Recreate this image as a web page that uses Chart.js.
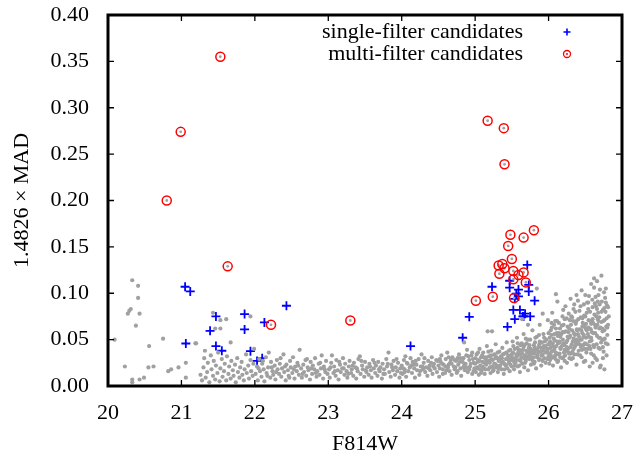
<!DOCTYPE html>
<html lang="en">
<head>
    <meta charset="UTF-8">
    <title>1.4826 × MAD vs F814W</title>
    <style>
        body { margin: 0; background: #fff; }
        canvas { display: block; }
    </style>
</head>
<body>
    <canvas id="madChart" width="634" height="457"></canvas>

    <script src="https://cdn.jsdelivr.net/npm/chart.js"></script>
    <script>
        // axis limits
        const xMin = 20, xMax = 27;
        const yMin = 0, yMax = 0.40;

        // single-filter candidates (blue +)
        const singleX = [21.05, 21.12, 21.47, 21.39, 21.86, 21.86, 22.13, 22.43, 21.06, 21.47, 21.55, 21.94, 22.03, 22.10,
                         24.12, 25.71, 25.47, 25.23, 25.47, 25.59, 25.73, 25.73, 25.56, 25.59, 25.54, 25.81, 25.52, 25.61,
                         24.92, 25.54, 25.65, 25.68, 25.75, 25.66, 25.44, 24.83];
        const singleY = [0.107, 0.102, 0.075, 0.0595, 0.0775, 0.061, 0.0685, 0.0865, 0.0458, 0.043, 0.038, 0.0375, 0.027, 0.030,
                         0.043, 0.1305, 0.1135, 0.107, 0.106, 0.104, 0.109, 0.102, 0.0995, 0.0966, 0.094, 0.092, 0.082, 0.082,
                         0.0746, 0.072, 0.075, 0.078, 0.075, 0.075, 0.0638, 0.052];

        // multi-filter candidates (red circles)
        const multiX = [21.53, 20.99, 20.80, 21.63, 22.22, 23.30, 25.17, 25.39, 25.40, 25.80, 25.48, 25.66, 25.45,
                        25.50, 25.32, 25.37, 25.40, 25.52, 25.33, 25.66, 25.59, 25.52, 25.69, 25.53, 25.24, 25.01];
        const multiY = [0.355, 0.274, 0.200, 0.129, 0.066, 0.0706, 0.286, 0.278, 0.239, 0.168, 0.163, 0.160, 0.151,
                        0.137, 0.130, 0.1315, 0.127, 0.124, 0.121, 0.1225, 0.1197, 0.115, 0.1117, 0.0948, 0.0962, 0.092];

        // full sample (grey dots), split by magnitude range
        const bgBright = [[20.33,0.114],[20.41,0.108],[20.41,0.095],[20.31,0.083],[20.29,0.081],[20.27,0.078],[20.43,0.078],
            [20.38,0.065],[20.09,0.050],[20.75,0.051],[20.56,0.043],[20.23,0.021],[20.55,0.020],[20.62,0.021],[20.33,0.007],
            [20.33,0.004],[20.43,0.007],[20.49,0.009],[20.82,0.016],[20.86,0.018],[20.96,0.020],[21.06,0.025],[21.06,0.009],
            [21.20,0.046],[21.43,0.079],[21.53,0.071],[21.53,0.062],[21.61,0.072],[21.32,0.038],[21.46,0.062],[21.94,0.075],
            [21.67,0.047],[21.19,0.046],[22.19,0.036]];
        const bg21 = [[21.26,0.012],[21.28,0.006],[21.30,0.020],[21.31,0.030],[21.33,0.009],[21.35,0.015],[21.36,0.025],
            [21.38,0.004],[21.40,0.033],[21.41,0.018],[21.43,0.011],[21.44,0.027],[21.46,0.007],[21.47,0.022],[21.49,0.014],
            [21.50,0.036],[21.52,0.005],[21.53,0.019],[21.55,0.029],[21.56,0.010],[21.58,0.016],[21.59,0.024],[21.61,0.006],
            [21.62,0.032],[21.64,0.013],[21.65,0.021],[21.67,0.008],[21.68,0.027],[21.70,0.017],[21.71,0.011],[21.73,0.023],
            [21.74,0.004],[21.76,0.030],[21.77,0.015],[21.79,0.009],[21.80,0.020],[21.82,0.026],[21.83,0.012],[21.85,0.006],
            [21.86,0.018],[21.88,0.034],[21.89,0.014],[21.91,0.022],[21.92,0.008],[21.94,0.028],[21.95,0.016],[21.97,0.011],
            [21.98,0.024],[21.99,0.040]];
        const bg22 = [[22.01,0.013],[22.03,0.021],[22.04,0.006],[22.06,0.029],[22.07,0.016],[22.09,0.010],[22.10,0.024],
            [22.12,0.018],[22.13,0.005],[22.15,0.031],[22.16,0.014],[22.18,0.020],[22.21,0.009],[22.22,0.026],[22.24,0.016],
            [22.25,0.012],[22.27,0.022],[22.28,0.007],[22.30,0.028],[22.31,0.018],[22.33,0.013],[22.34,0.024],[22.36,0.010],
            [22.37,0.019],[22.39,0.034],[22.40,0.015],[22.42,0.006],[22.43,0.023],[22.45,0.017],[22.46,0.011],[22.48,0.027],
            [22.49,0.020],[22.51,0.014],[22.52,0.031],[22.54,0.008],[22.55,0.021],[22.57,0.016],[22.58,0.025],[22.60,0.012],
            [22.61,0.039],[22.63,0.019],[22.64,0.009],[22.66,0.023],[22.67,0.015],[22.69,0.028],[22.70,0.011],[22.72,0.020],
            [22.73,0.017],[22.75,0.007],[22.76,0.026],[22.78,0.013],[22.79,0.022],[22.81,0.018],[22.82,0.030],[22.84,0.010],
            [22.85,0.016],[22.87,0.024],[22.88,0.012],[22.90,0.019],[22.91,0.033],[22.93,0.008],[22.94,0.021],[22.96,0.015],
            [22.97,0.027],[22.99,0.013],[22.05,0.019],[22.11,0.027],[22.17,0.011],[22.23,0.020],[22.29,0.015],[22.35,0.030],
            [22.41,0.021],[22.47,0.009],[22.53,0.018],[22.59,0.022],[22.65,0.013],[22.71,0.029],[22.77,0.019],[22.83,0.014],
            [22.89,0.025],[22.95,0.018]];
        const bg23 = [[23.01,0.018],[23.02,0.009],[23.04,0.025],[23.05,0.033],[23.07,0.014],[23.08,0.021],[23.10,0.011],
            [23.11,0.028],[23.13,0.017],[23.14,0.007],[23.16,0.023],[23.17,0.015],[23.19,0.019],[23.20,0.030],[23.22,0.012],
            [23.23,0.024],[23.25,0.016],[23.26,0.009],[23.28,0.021],[23.29,0.027],[23.31,0.014],[23.32,0.018],[23.34,0.011],
            [23.35,0.025],[23.37,0.020],[23.38,0.008],[23.40,0.016],[23.41,0.029],[23.43,0.032],[23.44,0.013],[23.46,0.022],
            [23.47,0.018],[23.49,0.010],[23.50,0.026],[23.52,0.015],[23.53,0.020],[23.55,0.012],[23.56,0.024],[23.58,0.017],
            [23.59,0.009],[23.61,0.028],[23.62,0.019],[23.64,0.014],[23.65,0.022],[23.67,0.011],[23.68,0.026],[23.70,0.016],
            [23.71,0.020],[23.73,0.008],[23.74,0.024],[23.76,0.018],[23.77,0.013],[23.79,0.029],[23.80,0.021],[23.82,0.036],
            [23.83,0.015],[23.85,0.010],[23.86,0.023],[23.88,0.017],[23.89,0.027],[23.91,0.012],[23.92,0.020],[23.94,0.016],
            [23.95,0.025],[23.97,0.009],[23.98,0.019],[23.03,0.020],[23.09,0.016],[23.15,0.026],[23.21,0.019],[23.27,0.013],
            [23.33,0.022],[23.39,0.019],[23.45,0.027],[23.51,0.017],[23.57,0.021],[23.63,0.025],[23.69,0.018],[23.75,0.013],
            [23.81,0.024],[23.87,0.020],[23.93,0.029],[23.99,0.014]];
        const bg24 = [[24.00,0.022],[24.01,0.013],[24.03,0.028],[24.04,0.018],[24.05,0.032],[24.06,0.010],[24.08,0.024],
            [24.09,0.016],[24.11,0.020],[24.12,0.030],[24.14,0.014],[24.15,0.026],[24.17,0.019],[24.18,0.009],[24.20,0.023],
            [24.21,0.017],[24.23,0.029],[24.24,0.012],[24.26,0.021],[24.27,0.034],[24.29,0.018],[24.30,0.025],[24.32,0.015],
            [24.33,0.020],[24.35,0.011],[24.36,0.027],[24.38,0.022],[24.39,0.017],[24.41,0.031],[24.42,0.013],[24.44,0.024],
            [24.45,0.019],[24.47,0.028],[24.48,0.015],[24.50,0.022],[24.51,0.010],[24.53,0.026],[24.54,0.033],[24.56,0.018],
            [24.57,0.023],[24.59,0.014],[24.60,0.029],[24.62,0.036],[24.63,0.020],[24.65,0.016],[24.66,0.025],[24.68,0.012],
            [24.69,0.031],[24.71,0.021],[24.72,0.018],[24.74,0.027],[24.75,0.014],[24.77,0.023],[24.78,0.034],[24.80,0.019],
            [24.81,0.011],[24.83,0.026],[24.84,0.030],[24.86,0.017],[24.87,0.024],[24.89,0.039],[24.90,0.015],[24.92,0.028],
            [24.93,0.021],[24.95,0.033],[24.96,0.013],[24.98,0.025],[24.99,0.019],[24.02,0.019],[24.07,0.025],[24.13,0.022],
            [24.19,0.027],[24.25,0.016],[24.31,0.030],[24.37,0.019],[24.43,0.021],[24.49,0.027],[24.55,0.024],[24.61,0.017],
            [24.67,0.028],[24.73,0.020],[24.79,0.026],[24.85,0.022],[24.91,0.032],[24.97,0.029],[24.04,0.015],[24.16,0.023],
            [24.28,0.021],[24.40,0.025],[24.52,0.019],[24.64,0.023],[24.76,0.030],[24.88,0.020],[24.94,0.024],[24.85,0.047],
            [24.52,0.029],[24.56,0.013],[24.60,0.021],[24.64,0.031],[24.68,0.024],[24.72,0.028],[24.76,0.016],[24.80,0.030],
            [24.84,0.020],[24.88,0.033],[24.92,0.018],[24.96,0.036],[24.98,0.016]];
        const bg25 = [[25.00,0.024],[25.01,0.015],[25.02,0.034],[25.03,0.020],[25.04,0.028],[25.05,0.012],[25.06,0.040],
            [25.07,0.022],[25.08,0.031],[25.09,0.017],[25.10,0.026],[25.11,0.036],[25.12,0.019],[25.13,0.013],[25.14,0.029],
            [25.15,0.023],[25.16,0.043],[25.17,0.059],[25.18,0.018],[25.19,0.032],[25.20,0.025],[25.21,0.014],[25.22,0.038],
            [25.23,0.021],[25.24,0.028],[25.25,0.017],[25.26,0.034],[25.27,0.024],[25.28,0.045],[25.29,0.020],[25.30,0.030],
            [25.31,0.015],[25.32,0.027],[25.33,0.037],[25.34,0.022],[25.35,0.032],[25.36,0.018],[25.37,0.041],[25.38,0.026],
            [25.39,0.013],[25.40,0.035],[25.41,0.023],[25.42,0.029],[25.43,0.047],[25.44,0.019],[25.45,0.033],[25.46,0.025],
            [25.47,0.016],[25.48,0.039],[25.49,0.028],[25.50,0.021],[25.005,0.030],[25.035,0.026],[25.065,0.018],[25.095,0.033],
            [25.125,0.025],[25.155,0.031],[25.185,0.027],[25.215,0.033],[25.245,0.020],[25.275,0.030],[25.305,0.036],
            [25.335,0.019],[25.365,0.030],[25.395,0.024],[25.425,0.036],[25.455,0.028],[25.485,0.031],[25.23,0.059],
            [25.02,0.019],[25.04,0.036],[25.06,0.027],[25.08,0.014],[25.10,0.021],[25.12,0.031],[25.14,0.018],[25.16,0.026],
            [25.18,0.037],[25.20,0.020],[25.22,0.029],[25.24,0.016],[25.26,0.024],[25.28,0.032],[25.30,0.022],[25.32,0.019],
            [25.34,0.029],[25.36,0.025],[25.38,0.034],[25.40,0.018],[25.42,0.022],[25.44,0.030],[25.46,0.038],[25.48,0.023],
            [25.50,0.034],
            [25.51,0.048],[25.52,0.030],[25.53,0.018],[25.54,0.040],[25.55,0.025],[25.56,0.034],[25.57,0.052],[25.58,0.021],
            [25.59,0.037],[25.60,0.028],[25.61,0.015],[25.62,0.044],[25.63,0.031],[25.64,0.024],[25.65,0.039],[25.66,0.056],
            [25.67,0.020],[25.68,0.033],[25.69,0.027],[25.70,0.046],[25.71,0.036],[25.72,0.017],[25.73,0.041],[25.74,0.029],
            [25.75,0.050],[25.76,0.023],[25.77,0.035],[25.78,0.060],[25.79,0.031],[25.80,0.044],[25.81,0.026],[25.82,0.038],
            [25.83,0.019],[25.84,0.053],[25.85,0.033],[25.86,0.042],[25.87,0.028],[25.88,0.066],[25.89,0.037],[25.90,0.022],
            [25.91,0.047],[25.92,0.034],[25.93,0.056],[25.94,0.030],[25.95,0.041],[25.96,0.025],[25.97,0.050],[25.98,0.037],
            [25.99,0.071],[26.00,0.032],[25.515,0.036],[25.545,0.029],[25.575,0.041],[25.605,0.034],[25.635,0.046],
            [25.665,0.030],[25.695,0.038],[25.725,0.032],[25.755,0.040],[25.785,0.027],[25.815,0.047],[25.845,0.039],
            [25.875,0.045],[25.905,0.033],[25.935,0.043],[25.965,0.036],[25.995,0.045],[25.53,0.026],[25.60,0.022],
            [25.67,0.044],[25.74,0.037],[25.81,0.035],[25.88,0.029],[25.95,0.048],[25.84,0.105],[25.64,0.072],[25.92,0.078],
            [25.72,0.066],
            [25.52,0.043],[25.54,0.022],[25.56,0.028],[25.58,0.046],[25.60,0.039],[25.62,0.027],[25.64,0.035],[25.66,0.042],
            [25.68,0.025],[25.70,0.030],[25.72,0.050],[25.74,0.044],[25.76,0.030],[25.78,0.038],[25.80,0.024],[25.82,0.052],
            [25.84,0.031],[25.86,0.036],[25.88,0.048],[25.90,0.041],[25.92,0.027],[25.94,0.052],[25.96,0.043],[25.98,0.029],
            [26.00,0.057],[25.57,0.032],[25.63,0.038],[25.69,0.051],[25.75,0.034],[25.81,0.041],[25.87,0.055],[25.93,0.038],
            [25.99,0.040]];
        const bg26 = [[26.01,0.045],[26.02,0.028],[26.03,0.060],[26.04,0.037],[26.05,0.079],[26.06,0.022],[26.07,0.051],
            [26.08,0.040],[26.09,0.033],[26.10,0.099],[26.11,0.057],[26.12,0.026],[26.13,0.046],[26.14,0.068],[26.15,0.035],
            [26.16,0.053],[26.17,0.020],[26.18,0.043],[26.19,0.075],[26.20,0.031],[26.21,0.058],[26.22,0.039],[26.23,0.086],
            [26.24,0.047],[26.25,0.025],[26.26,0.064],[26.27,0.036],[26.28,0.052],[26.29,0.071],[26.30,0.042],[26.31,0.029],
            [26.32,0.060],[26.33,0.048],[26.34,0.083],[26.35,0.034],[26.36,0.055],[26.37,0.067],[26.38,0.023],[26.39,0.045],
            [26.40,0.092],[26.41,0.038],[26.42,0.061],[26.43,0.050],[26.44,0.074],[26.45,0.031],[26.46,0.057],[26.47,0.044],
            [26.48,0.088],[26.49,0.065],[26.50,0.027],[26.51,0.052],[26.52,0.079],[26.53,0.040],[26.54,0.063],[26.55,0.097],
            [26.56,0.048],[26.57,0.070],[26.58,0.035],[26.59,0.058],[26.60,0.085],[26.61,0.044],[26.62,0.116],[26.63,0.066],
            [26.64,0.030],[26.65,0.075],[26.66,0.054],[26.67,0.091],[26.68,0.041],[26.69,0.062],[26.70,0.104],[26.71,0.022],
            [26.72,0.069],[26.73,0.050],[26.74,0.082],[26.75,0.037],[26.76,0.060],[26.77,0.095],[26.78,0.046],[26.79,0.073],
            [26.80,0.055],[26.005,0.035],[26.015,0.052],[26.025,0.041],[26.035,0.030],[26.045,0.063],[26.055,0.046],
            [26.065,0.038],[26.075,0.066],[26.085,0.049],[26.095,0.029],[26.105,0.043],[26.115,0.070],[26.125,0.054],
            [26.135,0.034],[26.145,0.047],[26.155,0.062],[26.165,0.040],[26.175,0.056],[26.185,0.030],[26.195,0.050],
            [26.205,0.066],[26.215,0.044],[26.225,0.033],[26.235,0.059],[26.245,0.073],[26.255,0.049],[26.265,0.040],
            [26.275,0.078],[26.285,0.030],[26.295,0.054],[26.305,0.066],[26.315,0.045],[26.325,0.037],[26.335,0.070],
            [26.345,0.057],[26.355,0.042],[26.365,0.080],[26.375,0.050],[26.385,0.061],[26.395,0.034],[26.405,0.072],
            [26.415,0.053],[26.425,0.045],[26.435,0.086],[26.445,0.060],[26.455,0.039],[26.465,0.068],[26.475,0.053],
            [26.485,0.076],[26.495,0.046],[26.505,0.062],[26.515,0.036],[26.525,0.090],[26.535,0.056],[26.545,0.071],
            [26.555,0.043],[26.565,0.080],[26.575,0.061],[26.585,0.049],[26.595,0.093],[26.605,0.068],[26.615,0.033],
            [26.625,0.077],[26.635,0.057],[26.645,0.086],[26.655,0.045],[26.665,0.066],[26.675,0.079],[26.685,0.052],
            [26.695,0.088],[26.705,0.063],[26.715,0.047],[26.725,0.091],[26.735,0.059],[26.745,0.070],[26.755,0.101],
            [26.765,0.051],[26.775,0.080],[26.785,0.064],[26.795,0.087],[26.01,0.024],[26.04,0.055],[26.07,0.031],
            [26.10,0.062],[26.13,0.027],[26.16,0.041],[26.19,0.058],[26.22,0.027],[26.25,0.042],[26.28,0.035],[26.31,0.075],
            [26.34,0.040],[26.37,0.047],[26.40,0.056],[26.43,0.033],[26.46,0.073],[26.49,0.040],[26.52,0.060],[26.55,0.053],
            [26.58,0.067],[26.61,0.057],[26.64,0.096],[26.67,0.072],[26.70,0.040],[26.73,0.062],[26.76,0.084],[26.79,0.033],
            [26.81,0.066],[26.82,0.075],[26.805,0.045],[26.58,0.110],[26.66,0.113],[26.72,0.119],[26.62,0.106],[26.45,0.103],
            [26.38,0.098],[26.30,0.094],[26.12,0.091],[26.70,0.020],[26.76,0.018],[26.56,0.021],
            [26.02,0.048],[26.04,0.068],[26.06,0.043],[26.08,0.056],[26.10,0.036],[26.12,0.048],[26.14,0.057],[26.16,0.031],
            [26.18,0.065],[26.20,0.046],[26.22,0.072],[26.24,0.038],[26.26,0.053],[26.28,0.062],[26.30,0.035],[26.32,0.074],
            [26.34,0.051],[26.36,0.043],[26.38,0.070],[26.40,0.048],[26.42,0.081],[26.44,0.042],[26.46,0.064],[26.48,0.055],
            [26.50,0.075],[26.52,0.045],[26.54,0.083],[26.56,0.062],[26.58,0.052],[26.60,0.072],[26.62,0.042],[26.64,0.063],
            [26.66,0.083],[26.68,0.070],[26.70,0.052],[26.72,0.080],[26.74,0.042],[26.76,0.071],[26.78,0.090],[26.80,0.063],
            [26.03,0.033],[26.09,0.070],[26.15,0.048],[26.21,0.036],[26.27,0.058],[26.33,0.030],[26.39,0.060],[26.45,0.050],
            [26.51,0.067],[26.57,0.040],[26.63,0.089],[26.69,0.074],[26.75,0.050],[26.81,0.085],[26.78,0.105],[26.68,0.098],
            [26.54,0.090],[26.50,0.098],[26.35,0.088],[26.20,0.082],[26.66,0.028],[26.60,0.025],[26.74,0.030],[26.48,0.026]];

        const toXY = (xs, ys) => xs.map((v, i) => ({x: v, y: ys[i]}));
        const pairs = list => list.map(p => ({x: p[0], y: p[1]}));
        const background = [].concat(bgBright, bg21, bg22, bg23, bg24, bg25, bg26);

        const serif = "'Liberation Serif', 'DejaVu Serif', serif";
        Chart.defaults.font.family = serif;
        Chart.defaults.font.size = 22;
        Chart.defaults.color = '#000';

        // gnuplot-like frame with inward ticks on all four sides
        const frameTicks = {
            id: 'frameTicks',
            afterDatasetsDraw(chart) {
                const {ctx, chartArea: a, scales: {x, y}} = chart;
                const len = 6;
                ctx.save();
                ctx.strokeStyle = '#000';
                ctx.lineWidth = 1.3;
                ctx.beginPath();
                x.ticks.forEach(t => {
                    const px = x.getPixelForValue(t.value);
                    ctx.moveTo(px, a.bottom); ctx.lineTo(px, a.bottom - len);
                    ctx.moveTo(px, a.top); ctx.lineTo(px, a.top + len);
                });
                y.ticks.forEach(t => {
                    const py = y.getPixelForValue(t.value);
                    ctx.moveTo(a.left, py); ctx.lineTo(a.left + len, py);
                    ctx.moveTo(a.right, py); ctx.lineTo(a.right - len, py);
                });
                ctx.stroke();
                ctx.lineWidth = 3;
                ctx.strokeRect(a.left, a.top, a.right - a.left, a.bottom - a.top);
                ctx.restore();
            }
        };

        // key in the top right corner: text right-aligned, symbol to its right
        const keyBox = {
            id: 'keyBox',
            afterDraw(chart) {
                const {ctx} = chart;
                const rows = [
                    {label: chart.data.datasets[3].label, y: 32, sym: 'plus'},
                    {label: chart.data.datasets[1].label, y: 54, sym: 'circle'}
                ];
                ctx.save();
                ctx.font = '22px ' + serif;
                ctx.textAlign = 'right';
                ctx.textBaseline = 'middle';
                rows.forEach(r => {
                    ctx.fillStyle = '#000';
                    ctx.fillText(r.label, 523, r.y);
                    const sx = 567;
                    if (r.sym === 'plus') {
                        ctx.strokeStyle = '#0000ff';
                        ctx.lineWidth = 1.6;
                        ctx.beginPath();
                        ctx.moveTo(sx - 3.5, r.y); ctx.lineTo(sx + 3.5, r.y);
                        ctx.moveTo(sx, r.y - 3.5); ctx.lineTo(sx, r.y + 3.5);
                        ctx.stroke();
                    } else {
                        ctx.strokeStyle = '#ff0000';
                        ctx.lineWidth = 1.3;
                        ctx.beginPath();
                        ctx.arc(sx, r.y, 3.5, 0, Math.PI * 2);
                        ctx.stroke();
                        ctx.fillStyle = '#ff0000';
                        ctx.beginPath();
                        ctx.arc(sx, r.y, 1, 0, Math.PI * 2);
                        ctx.fill();
                    }
                });
                ctx.restore();
            }
        };

        new Chart(document.getElementById('madChart'), {
            type: 'scatter',
            data: {
                datasets: [
                    {
                        label: 'all sources',
                        data: pairs(background),
                        pointRadius: 2.1,
                        pointBorderWidth: 0,
                        backgroundColor: '#a0a0a0',
                        borderColor: '#a0a0a0'
                    },
                    {
                        label: 'multi-filter candidates',
                        data: toXY(multiX, multiY),
                        pointStyle: 'circle',
                        pointRadius: 4.5,
                        pointBorderWidth: 1.5,
                        borderColor: '#ff0000',
                        backgroundColor: 'rgba(255,255,255,0)'
                    },
                    {
                        label: 'multi-filter centres',
                        data: toXY(multiX, multiY),
                        pointRadius: 1.4,
                        pointBorderWidth: 0,
                        backgroundColor: '#a0a0a0'
                    },
                    {
                        label: 'single-filter candidates',
                        data: toXY(singleX, singleY),
                        pointStyle: 'cross',
                        pointRadius: 4.5,
                        pointBorderWidth: 1.8,
                        borderColor: '#0000ff',
                        backgroundColor: '#0000ff'
                    }
                ]
            },
            options: {
                responsive: false,
                animation: false,
                events: [],
                layout: { padding: { top: 15, right: 12, bottom: 0, left: 0 } },
                plugins: {
                    legend: { display: false },
                    tooltip: { enabled: false }
                },
                scales: {
                    x: {
                        type: 'linear',
                        min: xMin,
                        max: xMax,
                        grid: { display: false },
                        border: { display: false },
                        ticks: { stepSize: 1, padding: 6 },
                        title: { display: true, text: 'F814W', padding: { top: 0, bottom: 0 } },
                        afterFit(s) { s.height = 71; s.paddingLeft = 0; s.paddingRight = 0; }
                    },
                    y: {
                        type: 'linear',
                        min: yMin,
                        max: yMax,
                        grid: { display: false },
                        border: { display: false },
                        ticks: { stepSize: 0.05, padding: 11, callback: v => v.toFixed(2) },
                        title: { display: true, text: '1.4826 × MAD', padding: { top: 9, bottom: 0 } },
                        afterFit(s) { s.width = 108; s.paddingTop = 0; s.paddingBottom = 0; }
                    }
                }
            },
            plugins: [frameTicks, keyBox]
        });
    </script>
</body>
</html>
